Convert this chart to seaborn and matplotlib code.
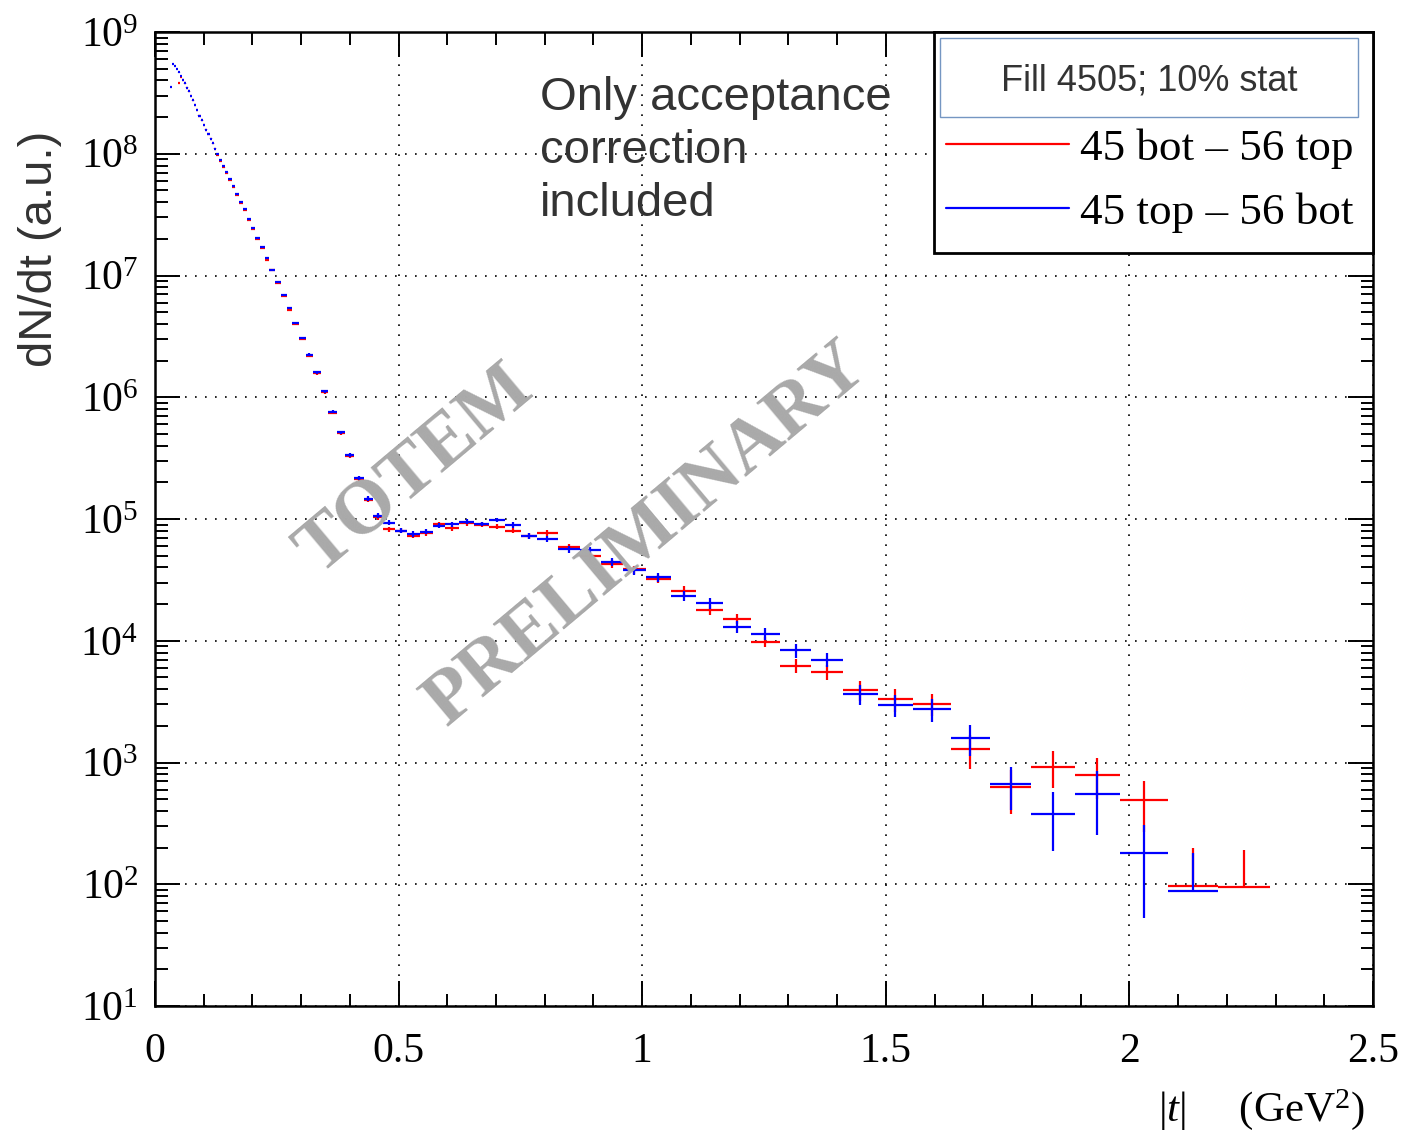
import numpy as np
import pandas as pd
import matplotlib
matplotlib.use("Agg")
import matplotlib.pyplot as plt
import matplotlib.ticker as mticker
from matplotlib.patches import Rectangle
from matplotlib.lines import Line2D
import seaborn as sns

nan = np.nan

# |t| bin edges (GeV^2), shared by both diagonals
t_edges = [
    0.031, 0.035, 0.039, 0.043, 0.047, 0.051, 0.055, 0.060, 0.064, 0.068,
    0.072, 0.076, 0.080, 0.084, 0.088, 0.094, 0.099, 0.103, 0.107, 0.112,
    0.117, 0.121, 0.126, 0.132, 0.138, 0.144, 0.150, 0.158, 0.165, 0.172,
    0.180, 0.188, 0.197, 0.206, 0.215, 0.225, 0.235, 0.246, 0.258, 0.270,
    0.282, 0.295, 0.309, 0.324, 0.340, 0.356, 0.373, 0.390, 0.409, 0.428,
    0.448, 0.469, 0.492, 0.517, 0.544, 0.570, 0.596, 0.624, 0.655, 0.686,
    0.718, 0.751, 0.784, 0.827, 0.872, 0.915, 0.960, 1.007, 1.059, 1.111,
    1.166, 1.223, 1.283, 1.347, 1.413, 1.483, 1.556, 1.633, 1.714, 1.799,
    1.888, 1.981, 2.080, 2.182, 2.289,
]

# dN/dt, diagonal 45 bot - 56 top
dndt_45bot_56top = [
    nan, nan, nan, nan, 3.81e8, 4.27e8, 4.03e8, 3.78e8, 3.50e8, 3.25e8,
    2.98e8, 2.74e8, 2.51e8, 2.29e8, 2.06e8, 1.88e8, 1.72e8, 1.58e8, 1.45e8, 1.33e8,
    1.22e8, 1.10e8, 9.75e7, 8.71e7, 7.77e7, 6.90e7, 6.05e7, 5.32e7, 4.58e7, 3.96e7,
    3.43e7, 2.87e7, 2.40e7, 2.00e7, 1.67e7, 1.35e7, 1.10e7, 8.71e6, 6.80e6, 5.25e6,
    4.02e6, 2.99e6, 2.20e6, 1.57e6, 1.10e6, 7.46e5, 5.05e5, 3.30e5, 2.13e5, 1.44e5,
    1.04e5, 8.23e4, 8.01e4, 7.29e4, 7.63e4, 9.10e4, 8.39e4, 9.22e4, 9.01e4, 8.65e4,
    8.01e4, 7.25e4, 7.72e4, 5.92e4, 4.97e4, 4.27e4, 3.85e4, 3.23e4, 2.57e4, 1.79e4,
    1.51e4, 9.82e3, 6.24e3, 5.57e3, 3.94e3, 3.32e3, 3.02e3, 1.28e3, 626, 924,
    794, 489, 96.8, 94.4,
]
err_45bot_56top = [
    nan, nan, nan, nan, 2.2e6, 2.1e6, 2.0e6, 1.9e6, 1.8e6, 1.7e6,
    1.6e6, 1.5e6, 1.4e6, 1.3e6, 1.2e6, 1.1e6, 1.0e6, 9.5e5, 9.0e5, 8.5e5,
    8.0e5, 7.5e5, 7.0e5, 6.5e5, 6.0e5, 5.5e5, 5.0e5, 4.6e5, 4.2e5, 3.8e5,
    3.4e5, 3.0e5, 2.6e5, 2.3e5, 2.0e5, 1.7e5, 1.5e5, 1.3e5, 1.1e5, 9.0e4,
    7.5e4, 6.0e4, 4.8e4, 3.8e4, 3.0e4, 2.3e4, 1.7e4, 1.3e4, 9.0e3, 6.5e3,
    5.0e3, 4.2e3, 4.0e3, 3.7e3, 3.8e3, 4.2e3, 4.0e3, 4.3e3, 4.2e3, 4.3e3,
    4.0e3, 4.0e3, 4.1e3, 3.6e3, 3.3e3, 3.0e3, 2.9e3, 2.7e3, 2.5e3, 1.7e3,
    1.4e3, 1.0e3, 850, 800, 730, 700, 630, 390, 250, 310,
    290, 220, 100, 97,
]

# dN/dt, diagonal 45 top - 56 bot
dndt_45top_56bot = [
    3.54e8, 5.46e8, 5.26e8, 4.97e8, 4.65e8, 4.35e8, 4.03e8, 3.78e8, 3.50e8, 3.25e8,
    2.98e8, 2.74e8, 2.51e8, 2.29e8, 2.06e8, 1.88e8, 1.72e8, 1.58e8, 1.45e8, 1.33e8,
    1.22e8, 1.10e8, 9.95e7, 8.89e7, 7.93e7, 7.04e7, 6.17e7, 5.43e7, 4.67e7, 4.04e7,
    3.50e7, 2.93e7, 2.45e7, 2.04e7, 1.70e7, 1.38e7, 1.12e7, 8.89e6, 6.94e6, 5.36e6,
    4.10e6, 3.05e6, 2.24e6, 1.60e6, 1.12e6, 7.61e5, 5.15e5, 3.37e5, 2.17e5, 1.47e5,
    1.06e5, 9.33e4, 8.01e4, 7.53e4, 7.86e4, 8.81e4, 9.05e4, 9.50e4, 9.10e4, 9.81e4,
    8.93e4, 7.25e4, 6.85e4, 5.62e4, 5.56e4, 4.43e4, 3.78e4, 3.34e4, 2.34e4, 2.03e4,
    1.30e4, 1.14e4, 8.32e3, 6.99e3, 3.65e3, 2.97e3, 2.74e3, 1.58e3, 666, 378,
    554, 180, 88.1, nan,
]
err_45top_56bot = [
    2.0e6, 2.5e6, 2.4e6, 2.3e6, 2.2e6, 2.1e6, 2.0e6, 1.9e6, 1.8e6, 1.7e6,
    1.6e6, 1.5e6, 1.4e6, 1.3e6, 1.2e6, 1.1e6, 1.0e6, 9.5e5, 9.0e5, 8.5e5,
    8.0e5, 7.5e5, 7.0e5, 6.5e5, 6.0e5, 5.5e5, 5.0e5, 4.6e5, 4.2e5, 3.8e5,
    3.4e5, 3.0e5, 2.6e5, 2.3e5, 2.0e5, 1.7e5, 1.5e5, 1.3e5, 1.1e5, 9.0e4,
    7.5e4, 6.0e4, 4.8e4, 3.8e4, 3.0e4, 2.3e4, 1.7e4, 1.3e4, 9.0e3, 6.5e3,
    5.0e3, 4.5e3, 4.0e3, 3.8e3, 3.8e3, 4.0e3, 4.0e3, 4.2e3, 4.2e3, 4.5e3,
    4.4e3, 4.0e3, 3.9e3, 3.5e3, 3.5e3, 3.1e3, 2.9e3, 2.8e3, 2.3e3, 2.0e3,
    1.4e3, 1.3e3, 1.1e3, 950, 700, 620, 580, 440, 260, 190,
    300, 127, 93, nan,
]

series_labels = ["45 bot \u2013 56 top", "45 top \u2013 56 bot"]
series_colors = ["#ff0000", "#0000ff"]
x_ticks = [0, 0.5, 1, 1.5, 2, 2.5]
x_tick_labels = ["0", "0.5", "1", "1.5", "2", "2.5"]
y_exponents = [1, 2, 3, 4, 5, 6, 7, 8, 9]

# ---------------------------------------------------------------- style
sns.set_theme(style="ticks")
plt.rcParams["font.family"] = ["Liberation Serif", "DejaVu Serif"]
plt.rcParams["mathtext.fontset"] = "custom"
plt.rcParams["mathtext.rm"] = "Liberation Serif"
plt.rcParams["mathtext.it"] = "Liberation Serif:italic"
plt.rcParams["text.color"] = "black"
SANS = ["Liberation Sans", "DejaVu Sans"]
GREY_TXT = "#333333"

# ---------------------------------------------------------------- data table
edges = np.asarray(t_edges)
centers = 0.5 * (edges[:-1] + edges[1:])
halfw = 0.5 * np.diff(edges)
frames = []
for lab, vals, errs in [
    (series_labels[0], dndt_45bot_56top, err_45bot_56top),
    (series_labels[1], dndt_45top_56bot, err_45top_56bot),
]:
    frames.append(pd.DataFrame({"t": centers, "half": halfw,
                                "dndt": vals, "err": errs, "arm": lab}))
df = pd.concat(frames, ignore_index=True).dropna()
palette = dict(zip(series_labels, series_colors))

# ---------------------------------------------------------------- figure
fig = plt.figure(figsize=(14.07, 11.39), dpi=100)
ax = fig.add_axes([155 / 1407, 1 - 1006 / 1139, 1218 / 1407, 974 / 1139])
ax.set_facecolor("white")

for lab, g in df.groupby("arm", sort=False):
    low = np.where(g["dndt"] - g["err"] > 0, g["err"], 0.0)
    ax.errorbar(g["t"], g["dndt"], xerr=g["half"], yerr=[low, g["err"]],
                fmt="none", ecolor=palette[lab], elinewidth=1.6,
                capsize=0, zorder=3)

ax.set_yscale("log")
ax.set_xlim(0, 2.5)
ax.set_ylim(10 ** y_exponents[0], 10 ** y_exponents[-1])

ax.xaxis.set_major_locator(mticker.FixedLocator(x_ticks))
ax.set_xticklabels(x_tick_labels)
ax.xaxis.set_minor_locator(mticker.MultipleLocator(0.1))
ax.yaxis.set_major_locator(mticker.FixedLocator([10.0 ** e for e in y_exponents]))
ax.set_yticklabels([r"$\mathdefault{10^{%d}}$" % e for e in y_exponents])
ax.yaxis.set_minor_locator(mticker.LogLocator(base=10, subs=np.arange(2, 10), numticks=30))
ax.yaxis.set_minor_formatter(mticker.NullFormatter())

ax.tick_params(which="both", direction="in", top=True, right=True,
               color="black", width=1.4, labelsize=30, labelcolor="black")
ax.tick_params(which="major", length=18)
ax.tick_params(which="minor", length=9)
ax.tick_params(axis="y", pad=12)
ax.tick_params(axis="x", pad=19)
for sp in ax.spines.values():
    sp.set_color("black")
    sp.set_linewidth(1.8)

ax.set_axisbelow(True)
ax.grid(True, which="major", color="black", linestyle=(0, (1, 5)), linewidth=1.2)
ax.grid(False, which="minor")

ax.set_ylabel("dN/dt (a.u.)", fontsize=34, family=SANS, color=GREY_TXT)
ax.yaxis.set_label_coords(-0.076, 0.777)
ax.set_xlabel(r"$|t|\quad\ \ \mathrm{(GeV}^{2}\mathrm{)}$", fontsize=31, color="black")
ax.xaxis.label.set_horizontalalignment("right")
ax.xaxis.set_label_coords(0.9934, -0.083)

ax.text(0.3161, 0.955, "Only acceptance\ncorrection\nincluded",
        transform=ax.transAxes, ha="left", va="top", fontsize=34,
        family=SANS, color=GREY_TXT, linespacing=1.26, zorder=4)

# legend block
ax.add_patch(Rectangle((0.6396, 0.7731), 0.3604, 0.2269, transform=ax.transAxes,
                       facecolor="white", edgecolor="black", linewidth=2.0,
                       zorder=4, clip_on=False))
ax.add_patch(Rectangle((0.6445, 0.9127), 0.3432, 0.0811, transform=ax.transAxes,
                       facecolor="white", edgecolor="#7596c2", linewidth=1.0,
                       zorder=4.5, clip_on=False))
ax.text(0.816, 0.9497, "Fill 4505; 10% stat", transform=ax.transAxes,
        ha="center", va="center", fontsize=26, family=SANS, color=GREY_TXT, zorder=5)
handles = [Line2D([], [], color=palette[l], lw=1.6) for l in series_labels]
leg = ax.legend(handles, series_labels, loc="center left",
                bbox_to_anchor=(0.6494, 0.8476), frameon=False, fontsize=32.5,
                handlelength=2.73, handletextpad=0.25, borderpad=0,
                borderaxespad=0, labelspacing=0.52)
leg.set_zorder(6)

# preliminary stamp
stamp = dict(transform=ax.transAxes, ha="center", va="center", rotation=40,
             rotation_mode="anchor", fontsize=55, fontweight="bold",
             family=["Liberation Serif"], color="#a9a9a9", zorder=7)
ax.text(0.2143, 0.5503, "TOTEM", **stamp)
ax.text(0.4040, 0.4836, "PRELIMINARY", **stamp)

fig.savefig("out.png", dpi=100, facecolor="white")
